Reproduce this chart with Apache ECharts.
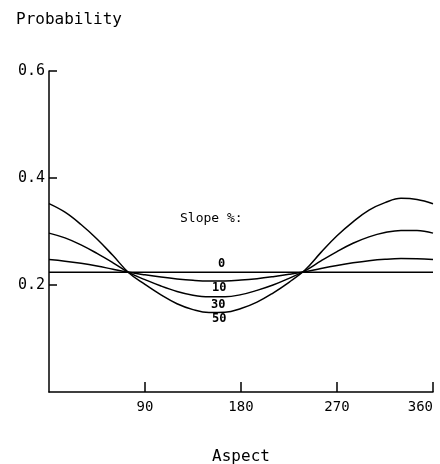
<!DOCTYPE html>
<html>
<head>
<meta charset="utf-8">
<script src="https://cdn.jsdelivr.net/npm/echarts@6/dist/echarts.min.js"></script>
<style>
  html, body { margin: 0; padding: 0; background: #fff; }
  #chart { width: 440px; height: 464px; }
</style>
</head>
<body>
<div id="chart"></div>
<script>
// aspect in degrees, every 15
const aspect = [0, 15, 30, 45, 60, 75, 90, 105, 120, 135, 150, 165, 180,
  195, 210, 225, 240, 255, 270, 285, 300, 315, 330, 345, 360]

// probability, one list per slope
const slope0 = [0.224, 0.224, 0.224, 0.224, 0.224, 0.224, 0.224, 0.224, 0.224,
  0.224, 0.224, 0.224, 0.224, 0.224, 0.224, 0.224, 0.224, 0.224, 0.224, 0.224,
  0.224, 0.224, 0.224, 0.224, 0.224]
const slope10 = [0.2475, 0.2445, 0.2405, 0.2355, 0.2295, 0.2237, 0.219, 0.2148,
  0.2113, 0.2088, 0.2076, 0.2077, 0.2092, 0.2119, 0.2156, 0.2199, 0.2248, 0.2309,
  0.2365, 0.2414, 0.2454, 0.2481, 0.2494, 0.2492, 0.2475]
const slope30 = [0.297, 0.288, 0.275, 0.259, 0.2415, 0.223, 0.21, 0.198, 0.188,
  0.181, 0.178, 0.178, 0.182, 0.19, 0.2, 0.2125, 0.2265, 0.245, 0.2625, 0.278,
  0.29, 0.298, 0.302, 0.302, 0.297]
const slope50 = [0.352, 0.336, 0.313, 0.286, 0.255, 0.2225, 0.201, 0.1815, 0.165,
  0.154, 0.1485, 0.149, 0.156, 0.168, 0.185, 0.205, 0.228, 0.261, 0.292, 0.318,
  0.34, 0.354, 0.362, 0.36, 0.352]

const xTicks = [90, 180, 270, 360]
const yTicks = [0.2, 0.4, 0.6]

const font = 'DejaVu Sans Mono'

function pairs(ys) {
  return aspect.map((x, i) => [x, ys[i]])
}

function curve(name, ys) {
  return {
    name: name,
    type: 'line',
    data: pairs(ys),
    smooth: 0.4,
    showSymbol: false,
    silent: true,
    lineStyle: { color: '#000', width: 1.5 },
  }
}

let myChart = echarts.init(document.getElementById('chart'))

let options = {
  animation: false,
  title: {
    text: 'Probability',
    left: 11,
    top: 7,
    textStyle: { fontFamily: font, fontSize: 16, fontWeight: 'normal', color: '#000' },
  },
  grid: { left: 49, right: 7, top: 71, bottom: 72, outerBoundsMode: 'none' },
  xAxis: {
    type: 'value',
    min: 0,
    max: 360,
    interval: 90,
    name: 'Aspect',
    nameLocation: 'middle',
    nameGap: 57,
    nameTextStyle: { fontFamily: font, fontSize: 16, color: '#000' },
    axisLine: { lineStyle: { color: '#000', width: 1.5 } },
    axisTick: { inside: true, length: 10, lineStyle: { color: '#000', width: 1.5 } },
    splitLine: { show: false },
    axisLabel: {
      showMinLabel: false,
      alignMaxLabel: 'right',
      margin: 8,
      fontFamily: font,
      fontSize: 14,
      color: '#000',
      formatter: v => (xTicks.includes(v) ? String(v) : ''),
    },
  },
  yAxis: {
    type: 'value',
    min: 0,
    max: 0.6,
    interval: 0.2,
    axisLine: { show: true, lineStyle: { color: '#000', width: 1.5 } },
    axisTick: { inside: true, length: 8, lineStyle: { color: '#000', width: 1.5 } },
    splitLine: { show: false },
    axisLabel: {
      showMinLabel: false,
      margin: 4,
      fontFamily: font,
      fontSize: 15,
      color: '#000',
      formatter: v => {
        let t = yTicks.find(k => Math.abs(k - v) < 1e-6)
        return t ? t.toFixed(1) : ''
      },
    },
  },
  // legend text written on the plot
  graphic: [
    { type: 'text', left: 180, top: 212, style: { text: 'Slope %:', font: '13px ' + font, fill: '#000' } },
    { type: 'text', left: 218, top: 258, style: { text: '0', font: 'bold 12px ' + font, fill: '#000' } },
    { type: 'text', left: 212, top: 282, style: { text: '10', font: 'bold 12px ' + font, fill: '#000' } },
    { type: 'text', left: 211, top: 299, style: { text: '30', font: 'bold 12px ' + font, fill: '#000' } },
    { type: 'text', left: 212, top: 313, style: { text: '50', font: 'bold 12px ' + font, fill: '#000' } },
  ],
  series: [
    curve('0', slope0),
    curve('10', slope10),
    curve('30', slope30),
    curve('50', slope50),
  ],
}

myChart.setOption(options)
</script>
</body>
</html>
